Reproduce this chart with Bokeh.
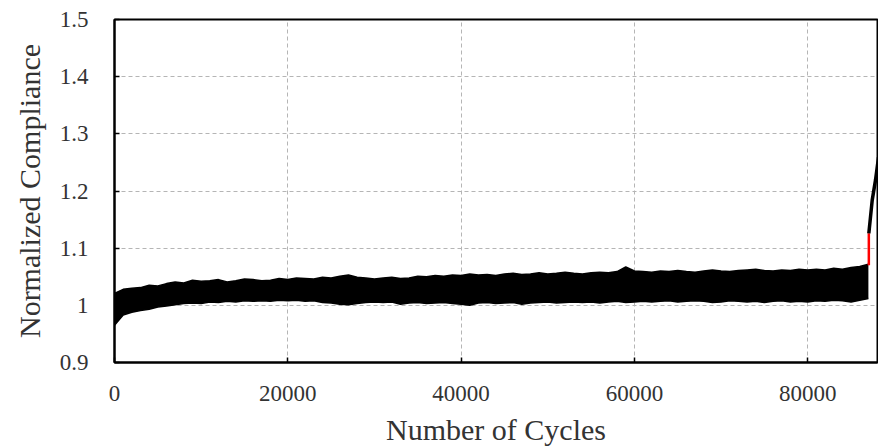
from bokeh.plotting import figure
from bokeh.models import FixedTicker, CustomJSTickFormatter, Range1d
from bokeh.embed import file_html
from bokeh.resources import INLINE

# Envelope of the noisy compliance record, every 1000 cycles
cycles = [0, 1000, 2000, 3000, 4000, 5000, 6000, 7000, 8000, 9000,
          10000, 11000, 12000, 13000, 14000, 15000, 16000, 17000, 18000, 19000,
          20000, 21000, 22000, 23000, 24000, 25000, 26000, 27000, 28000, 29000,
          30000, 31000, 32000, 33000, 34000, 35000, 36000, 37000, 38000, 39000,
          40000, 41000, 42000, 43000, 44000, 45000, 46000, 47000, 48000, 49000,
          50000, 51000, 52000, 53000, 54000, 55000, 56000, 57000, 58000, 59000,
          60000, 61000, 62000, 63000, 64000, 65000, 66000, 67000, 68000, 69000,
          70000, 71000, 72000, 73000, 74000, 75000, 76000, 77000, 78000, 79000,
          80000, 81000, 82000, 83000, 84000, 85000, 86000, 87000]
upper = [1.021, 1.028, 1.030, 1.031, 1.035, 1.034, 1.038, 1.041, 1.039, 1.044,
         1.042, 1.043, 1.045, 1.041, 1.043, 1.046, 1.045, 1.043, 1.044, 1.047,
         1.045, 1.048, 1.047, 1.046, 1.049, 1.048, 1.051, 1.053, 1.049, 1.048,
         1.046, 1.048, 1.049, 1.047, 1.048, 1.051, 1.050, 1.052, 1.051, 1.053,
         1.052, 1.055, 1.053, 1.054, 1.052, 1.055, 1.056, 1.054, 1.055, 1.057,
         1.055, 1.056, 1.058, 1.056, 1.055, 1.057, 1.058, 1.057, 1.059, 1.067,
         1.060, 1.059, 1.058, 1.060, 1.059, 1.061, 1.059, 1.058, 1.060, 1.062,
         1.060, 1.059, 1.061, 1.062, 1.063, 1.061, 1.060, 1.062, 1.061, 1.063,
         1.062, 1.063, 1.062, 1.065, 1.063, 1.066, 1.068, 1.072]
lower = [0.965, 0.983, 0.988, 0.991, 0.993, 0.997, 0.999, 1.001, 1.003, 1.004,
         1.003, 1.006, 1.005, 1.007, 1.006, 1.008, 1.007, 1.008, 1.007, 1.009,
         1.008, 1.009, 1.007, 1.008, 1.005, 1.004, 1.002, 1.001, 1.003, 1.005,
         1.006, 1.005, 1.006, 1.002, 1.004, 1.005, 1.003, 1.004, 1.005, 1.003,
         1.002, 1.000, 1.004, 1.005, 1.003, 1.004, 1.005, 1.002, 1.004, 1.005,
         1.006, 1.004, 1.005, 1.006, 1.005, 1.006, 1.004, 1.006, 1.007, 1.005,
         1.006, 1.007, 1.006, 1.007, 1.008, 1.006, 1.007, 1.008, 1.007, 1.005,
         1.006, 1.008, 1.007, 1.006, 1.007, 1.005, 1.007, 1.008, 1.006, 1.007,
         1.006, 1.008, 1.007, 1.009, 1.008, 1.006, 1.009, 1.012]

# Red jump at failure onset
jump_x = [87050, 87050]
jump_y = [1.070, 1.126]

# Final rise
rise_x = [87050, 87440, 87820, 88170]
rise_y = [1.126, 1.184, 1.219, 1.259]

x_ticks = [0, 20000, 40000, 60000, 80000]
y_ticks = [0.9, 1.0, 1.1, 1.2, 1.3, 1.4, 1.5]

FONT = "Liberation Serif"

p = figure(width=878, height=448, output_backend="svg", toolbar_location=None,
           x_range=Range1d(0, 88050), y_range=Range1d(0.9, 1.5),
           min_border_left=114, min_border_right=1, min_border_top=19,
           min_border_bottom=86)

p.varea(x=cycles, y1=lower, y2=upper, fill_color="black")
p.line(x=cycles, y=upper, line_color="black", line_width=1.5)
p.line(x=cycles, y=lower, line_color="black", line_width=1.5)
p.line(x=jump_x, y=jump_y, line_color="red", line_width=2.5)
p.line(x=rise_x, y=rise_y, line_color="black", line_width=3.5)

p.outline_line_color = "black"
p.outline_line_width = 2
p.outline_line_alpha = 1

p.xaxis.ticker = FixedTicker(ticks=x_ticks)
p.yaxis.ticker = FixedTicker(ticks=y_ticks)
p.yaxis.formatter = CustomJSTickFormatter(code="return tick.toFixed(1).replace(/\\.0$/, '');")

for ax in (p.xaxis[0], p.yaxis[0]):
    ax.axis_line_color = "black"
    ax.axis_line_width = 2
    ax.major_tick_in = 5
    ax.major_tick_out = 0
    ax.major_tick_line_color = "black"
    ax.major_tick_line_width = 1.5
    ax.minor_tick_line_color = None
    ax.major_label_text_font = FONT
    ax.major_label_text_font_size = "23px"
    ax.major_label_text_color = "#333333"
    ax.axis_label_text_font = FONT
    ax.axis_label_text_font_size = "30px"
    ax.axis_label_text_font_style = "normal"
    ax.axis_label_text_color = "#333333"

p.xaxis.axis_label = "Number of Cycles"
p.yaxis.axis_label = "Normalized Compliance"
p.xaxis.major_label_standoff = 23
p.xaxis.axis_label_standoff = 9
p.yaxis.major_label_standoff = 26
p.yaxis.axis_label_standoff = 11

p.grid.grid_line_color = "#b5b5b5"
p.grid.grid_line_dash = "4 3"
p.grid.grid_line_width = 1

open("out.html", "w").write(file_html(p, INLINE))
